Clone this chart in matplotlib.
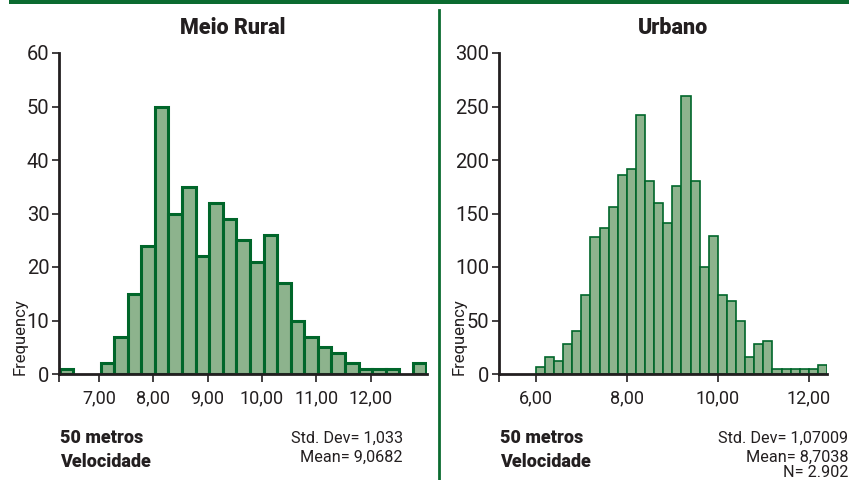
import matplotlib
matplotlib.use("Agg")
import matplotlib.pyplot as plt
from matplotlib.lines import Line2D
from matplotlib.patches import Rectangle

# --- dados ---
rural_start = 6.28
rural_width = 0.25
rural_counts = [1, 0, 0, 2, 7, 15, 24, 50, 30, 35, 22, 32, 29, 25, 21,
                26, 17, 10, 7, 5, 4, 2, 1, 1, 1, 0, 2]
rural_ticks = [7, 8, 9, 10, 11, 12]
rural_ticklabels = ["7,00", "8,00", "9,00", "10,00", "11,00", "12,00"]

urb_start = 6.0
urb_width = 0.2
urb_counts = [7, 16, 12, 28, 40, 74, 128, 136, 156, 186, 192, 242, 180, 160,
              141, 176, 260, 180, 100, 129, 74, 68, 50, 16, 28, 31,
              5, 5, 5, 5, 5, 8]
urb_ticks = [6, 8, 10, 12]
urb_ticklabels = ["6,00", "8,00", "10,00", "12,00"]

W, H = 849, 480
FACE = "#8db38d"
EDGE = "#00662a"
DARK = "#231f20"
LINE_GREEN = "#0b6b30"
FONT = "Roboto"

fig = plt.figure(figsize=(W / 100, H / 100), dpi=100)


def px(x, y):
    return x / W, 1 - y / H


def make_axes(x0, x1, y_top, y_bot):
    return fig.add_axes([x0 / W, 1 - y_bot / H, (x1 - x0) / W, (y_bot - y_top) / H])


def style(ax, xlim, ylim, yticks, xticks, xlabels):
    ax.set_xlim(*xlim)
    ax.set_ylim(*ylim)
    for s in ["top", "right"]:
        ax.spines[s].set_visible(False)
    for s in ["left", "bottom"]:
        ax.spines[s].set_linewidth(2)
        ax.spines[s].set_color(DARK)
    ax.set_yticks(yticks)
    ax.set_yticklabels([str(v) for v in yticks], fontsize=14.5, fontfamily=FONT, color=DARK)
    ax.set_xticks(xticks)
    ax.set_xticklabels(xlabels, fontsize=13, fontfamily=FONT, color=DARK)
    ax.set_xticks([xlim[0]], minor=True)
    ax.tick_params(axis="y", length=5, width=1.2, color=DARK, pad=2)
    ax.tick_params(axis="x", which="both", length=6, width=1.2, color=DARK, pad=5)
    ax.set_facecolor("none")


def draw_bars(ax, start, width, counts, lw):
    lefts = [start + i * width for i, c in enumerate(counts) if c > 0]
    heights = [c for c in counts if c > 0]
    ax.bar(lefts, heights, width=width, align="edge", color=FACE,
           edgecolor=EDGE, linewidth=lw, zorder=2)


# painel esquerdo
ax1 = make_axes(59, 427, 53, 374)
draw_bars(ax1, rural_start, rural_width, rural_counts, 2.2)
style(ax1, (6.265, 13.04), (0, 60), [0, 10, 20, 30, 40, 50, 60], rural_ticks, rural_ticklabels)

# painel direito
ax2 = make_axes(499, 827, 53, 374)
draw_bars(ax2, urb_start, urb_width, urb_counts, 1.2)
style(ax2, (5.19, 12.40), (0, 300), [0, 50, 100, 150, 200, 250, 300], urb_ticks, urb_ticklabels)

# titulos
fig.text(*px(233, 28), "Meio Rural", ha="center", va="center", fontsize=15.5,
         fontweight="heavy", fontfamily=FONT, color=DARK)
fig.text(*px(673, 28), "Urbano", ha="center", va="center", fontsize=15.5,
         fontweight="heavy", fontfamily=FONT, color=DARK)

# eixos y
for xc in (20, 459):
    fig.text(*px(xc, 337), "Frequency", rotation=90, ha="center", va="center",
             fontsize=12, fontfamily=FONT, color=DARK)

# rodape
for xl in (60, 500):
    fig.text(*px(xl, 438), "50 metros", ha="left", va="center", fontsize=13,
             fontweight="heavy", fontfamily=FONT, color=DARK)
    fig.text(*px(xl, 462), "Velocidade", ha="left", va="center", fontsize=13,
             fontweight="heavy", fontfamily=FONT, color=DARK)

fig.text(*px(403, 438), "Std. Dev= 1,033", ha="right", va="center", fontsize=11.7,
         fontfamily=FONT, color=DARK)
fig.text(*px(403, 457), "Mean= 9,0682", ha="right", va="center", fontsize=11.7,
         fontfamily=FONT, color=DARK)
fig.text(*px(848, 438), "Std. Dev= 1,07009", ha="right", va="center", fontsize=11.7,
         fontfamily=FONT, color=DARK)
fig.text(*px(848, 457), "Mean= 8,7038", ha="right", va="center", fontsize=11.7,
         fontfamily=FONT, color=DARK)
fig.text(*px(848, 480), "N= 2.902", ha="right", va="bottom", fontsize=11.7,
         fontfamily=FONT, color=DARK)

# linhas verdes
fig.add_artist(Rectangle(px(9, 4), 1 - 9 / W, 4 / H, transform=fig.transFigure,
                         color=LINE_GREEN, lw=0))
fig.add_artist(Line2D([439 / W] * 2, [0, 1 - 10 / H], transform=fig.transFigure,
                      color=LINE_GREEN, lw=2))

fig.savefig("out.png", dpi=100)
